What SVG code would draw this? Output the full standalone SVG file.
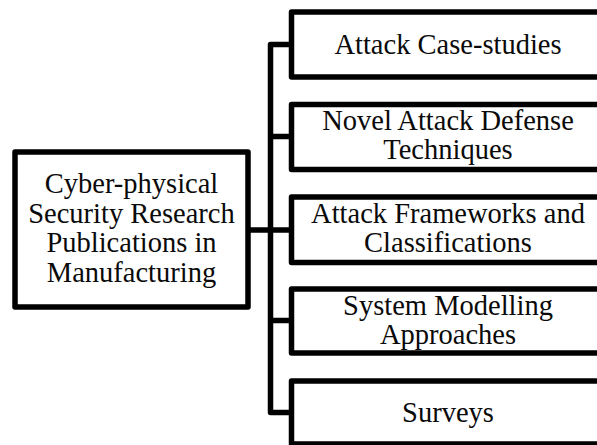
<svg xmlns="http://www.w3.org/2000/svg" width="597" height="445" viewBox="0 0 597 445">
<style>
.box{fill:#fff;stroke:#000;stroke-width:5.5;stroke-linejoin:round}
.ln{fill:none;stroke:#000;stroke-width:5.5;stroke-linejoin:round;stroke-linecap:butt}
text{font-family:"Liberation Serif","Times New Roman",serif;font-size:28.5px;fill:#0a0a0a;text-anchor:middle}
</style>
<rect width="597" height="445" fill="#fff"/>
<g id="connectors">
<path class="ln" d="M291.5,44.5 H270.5 V412.5 H291.5"/>
<path class="ln" d="M270.5,136.5 H291.5 M270.5,320.5 H291.5 M248,230 H291.5"/>
</g>
<g id="root">
<rect class="box" x="15" y="152" width="233" height="155"/>
<text x="131.5" y="193.3">Cyber-physical</text>
<text x="131.5" y="222.8">Security Research</text>
<text x="131.5" y="252.3">Publications in</text>
<text x="131.5" y="281.8">Manufacturing</text>
</g>
<g id="n1">
<rect class="box" x="291.5" y="12" width="320" height="65"/>
<text x="448" y="53.5">Attack Case-studies</text>
</g>
<g id="n2">
<rect class="box" x="291.5" y="104.5" width="320" height="65"/>
<text x="448" y="129.5">Novel Attack Defense</text>
<text x="448" y="158.5">Techniques</text>
</g>
<g id="n3">
<rect class="box" x="291.5" y="197" width="320" height="65.5"/>
<text x="448" y="222.7">Attack Frameworks and</text>
<text x="448" y="251.7">Classifications</text>
</g>
<g id="n4">
<rect class="box" x="291.5" y="289" width="320" height="64"/>
<text x="448" y="315">System Modelling</text>
<text x="448" y="344">Approaches</text>
</g>
<g id="n5">
<rect class="box" x="291.5" y="381" width="320" height="63"/>
<text x="448" y="421.7">Surveys</text>
</g>
</svg>
